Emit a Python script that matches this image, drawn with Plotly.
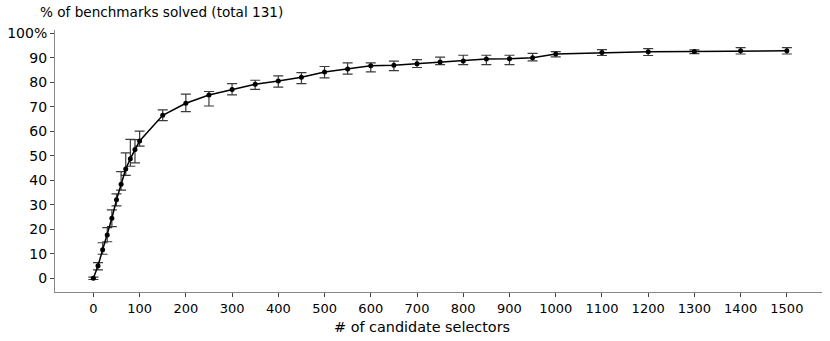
import plotly.graph_objects as go

# number of candidate selectors
n_selectors = [0, 10, 20, 30, 40, 50, 60, 70, 80, 90, 100, 150, 200, 250, 300, 350, 400,
               450, 500, 550, 600, 650, 700, 750, 800, 850, 900, 950, 1000,
               1100, 1200, 1300, 1400, 1500]
# % of benchmarks solved (mean)
solved_pct = [0.0, 5.1, 11.6, 17.7, 24.5, 32.0, 38.4, 44.6, 48.8, 52.5, 56.0, 66.5, 71.4,
              74.8, 77.0, 79.2, 80.5, 82.0, 84.2, 85.4, 86.7, 86.9, 87.5, 88.2, 88.7,
              89.5, 89.6, 90.0, 91.5, 92.1, 92.4, 92.5, 92.8, 92.8]
# error bar extents above / below the mean
err_plus = [0.5, 1.3, 2.9, 3.0, 3.4, 2.4, 5.1, 6.6, 7.9, 4.1, 4.0, 2.2, 3.7,
            1.4, 2.4, 1.6, 2.1, 1.9, 2.2, 2.5, 1.2, 1.7, 1.7, 2.0, 2.3,
            1.5, 1.4, 1.8, 1.0, 1.2, 1.3, 0.7, 1.3, 1.3]
err_minus = [0.5, 1.7, 1.8, 2.8, 3.4, 2.5, 2.4, 2.6, 3.1, 5.4, 2.1, 2.2, 3.4,
             4.5, 2.2, 2.1, 2.5, 2.6, 2.4, 2.1, 2.5, 2.2, 1.5, 1.0, 1.5,
             2.3, 2.4, 1.3, 1.2, 1.2, 1.5, 0.8, 1.3, 1.3]

x_ticks = list(range(0, 1501, 100))
y_ticks = list(range(0, 101, 10))
y_tick_text = [str(v) for v in y_ticks[:-1]] + ["100%"]

FONT = "DejaVu Sans"

fig = go.Figure()
fig.add_trace(go.Scatter(
    x=n_selectors, y=solved_pct, mode="lines+markers",
    line=dict(color="black", width=1.5),
    marker=dict(color="black", size=5),
    error_y=dict(type="data", symmetric=False, array=err_plus, arrayminus=err_minus,
                 color="#3a3a3a", thickness=1.2, width=5),
    showlegend=False,
))

fig.update_layout(
    width=830, height=341,
    margin=dict(l=55, r=8, t=30, b=49),
    paper_bgcolor="white", plot_bgcolor="white",
    font=dict(family=FONT, size=14, color="black"),
    xaxis=dict(range=[-83, 1576], tickvals=x_ticks, ticks="outside", ticklen=4,
               tickcolor="#444", showline=True, linecolor="#888", linewidth=1,
               showgrid=False, zeroline=False, automargin=False,
               tickfont=dict(size=13)),
    yaxis=dict(range=[-5.6, 101.3], tickvals=y_ticks, ticktext=y_tick_text,
               ticks="outside", ticklen=4, tickcolor="#444", showline=True,
               linecolor="#888", linewidth=1, showgrid=False, zeroline=False,
               automargin=False, tickfont=dict(size=14)),
    annotations=[
        dict(text="% of benchmarks solved (total 131)", xref="paper", yref="paper",
             x=-0.022, y=1.07, xanchor="left", yanchor="middle",
             showarrow=False, font=dict(size=13.6)),
        dict(text="# of candidate selectors", xref="paper", yref="paper",
             x=0.479, y=-0.134, xanchor="center", yanchor="middle",
             showarrow=False, font=dict(size=14.4)),
    ],
)

# drop the default 8px page margin so the figure sits at the window corner
fig.write_html("out.html", config={"displayModeBar": False},
               post_script="document.body.style.margin = '0';")
